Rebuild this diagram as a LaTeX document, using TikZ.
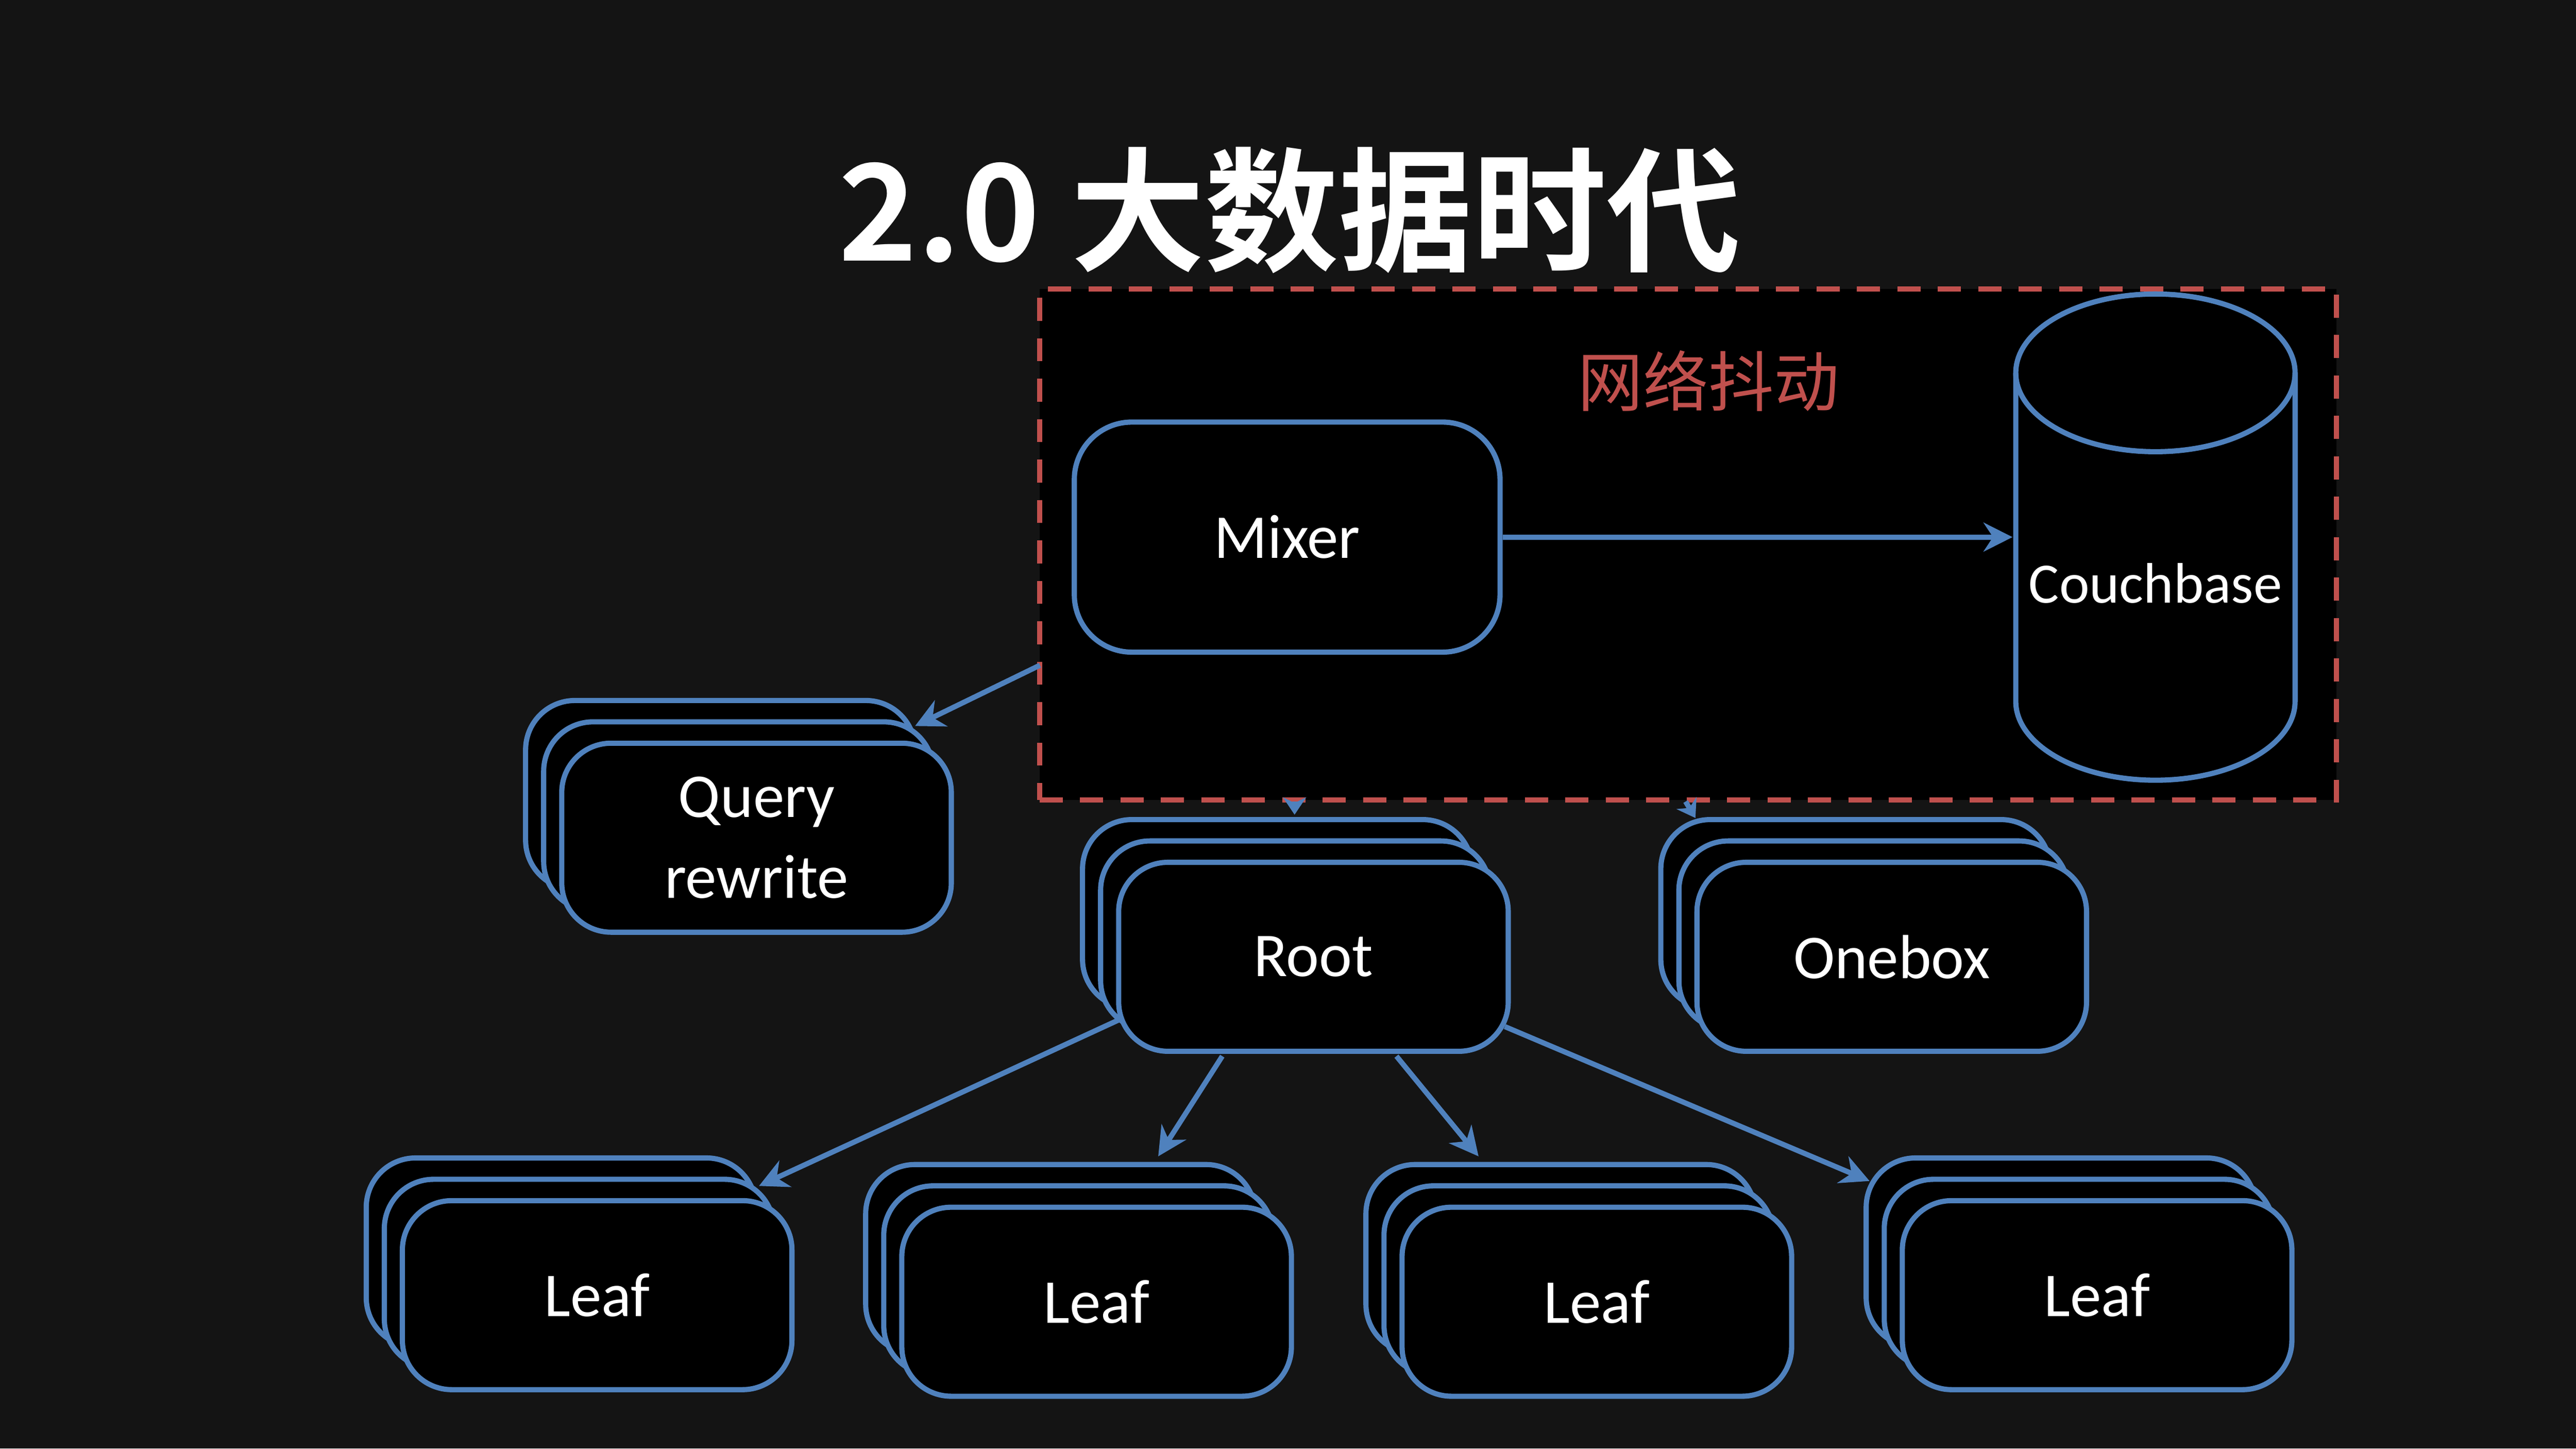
\documentclass[tikz,border=0pt]{standalone}
\usepackage{fontspec}
\setmainfont{Carlito}
\newfontfamily\cjk{Noto Sans CJK SC}
\newfontfamily\cjkb{Noto Sans CJK SC Bold}
\usetikzlibrary{arrows.meta}
\definecolor{bg}{HTML}{141414}
\definecolor{bl}{HTML}{4F81BD}
\definecolor{rd}{HTML}{C0504D}
\tikzset{
 x=0.01cm,y=-0.01cm,
 box/.style={draw=bl,line width=0.9pt,fill=black,rounded corners=0.3cm,minimum width=2.37cm,minimum height=1.15cm,text=white,font=\fontsize{10.8}{14}\selectfont,align=center,inner sep=0},
 conn/.style={draw=bl,line width=0.9pt,-{Stealth[length=5pt,width=5pt]}},
}
\newcommand\stk[4]{%
 \node[box] at (#2-22,#3-26) {};
 \node[box] at (#2-11,#3-13) {};
 \node[box] (#1) at (#2,#3) {#4};}
\begin{document}
\begin{tikzpicture}
\fill[bg] (0,0) rectangle (1568,882);
\useasboundingbox (0,0) rectangle (1568,882);
\node[text=white,font=\cjkb\fontsize{23.2}{28}\selectfont] (title) at (785,128) {2.0 大数据时代};
\node[draw=rd,dashed,dash pattern=on 4pt off 3pt,line width=0.9pt,fill=black,minimum width=7.89cm,minimum height=3.11cm,inner sep=0] (dbox) at (1027.5,331.5) {};
\node[text=rd,font=\cjk\fontsize{11.3}{14}\selectfont] (jit) at (1040,232) {网络抖动};
\node[box,rounded corners=0.35cm,minimum width=2.59cm,minimum height=1.4cm] (mixer) at (783.5,327) {Mixer};
% cylinder
\draw[bl,line width=0.9pt,fill=black] (1227,227) -- (1227,427) arc[start angle=180,end angle=360,x radius=85,y radius=-48] -- (1397,227) arc[start angle=0,end angle=180,x radius=85,y radius=-48];
\draw[bl,line width=0.9pt] (1227,227) arc[start angle=180,end angle=360,x radius=85,y radius=-48];
\node[text=white,font=\fontsize{9.9}{14}\selectfont,inner sep=0] (couch) at (1312,355) {Couchbase};
\coordinate (cin) at (1225,327);
\draw[conn] (mixer.east) -- (cin);
\stk{qr}{460.5}{510}{Query\\rewrite}
\stk{root}{799.5}{582.5}{Root}
\stk{onebox}{1151.5}{582.5}{Onebox}
\stk{l1}{363.5}{788.5}{Leaf}
\stk{l2}{667.5}{792.5}{Leaf}
\stk{l3}{972}{792.5}{Leaf}
\stk{l4}{1276.5}{788.5}{Leaf}
\coordinate (bw) at (633,405);
\coordinate (qt) at (557,442);
\draw[conn] (bw) -- (qt);
\coordinate (b1) at (788,488); \coordinate (r1) at (788,496);
\coordinate (b2) at (1026,488); \coordinate (o1) at (1032,498);
\draw[conn,-{Stealth[length=3pt,width=4pt]}] (b1) -- (r1);
\draw[conn,-{Stealth[length=3pt,width=4pt]}] (b2) -- (o1);
\coordinate (a1) at (683,620); \coordinate (t1) at (462,722);
\coordinate (a2) at (744,643); \coordinate (t2) at (705,704);
\coordinate (a3) at (850,643); \coordinate (t3) at (900,704);
\coordinate (a4) at (916,625); \coordinate (t4) at (1138,719);
\draw[conn] (a1) -- (t1);
\draw[conn] (a2) -- (t2);
\draw[conn] (a3) -- (t3);
\draw[conn] (a4) -- (t4);
\end{tikzpicture}
\end{document}
